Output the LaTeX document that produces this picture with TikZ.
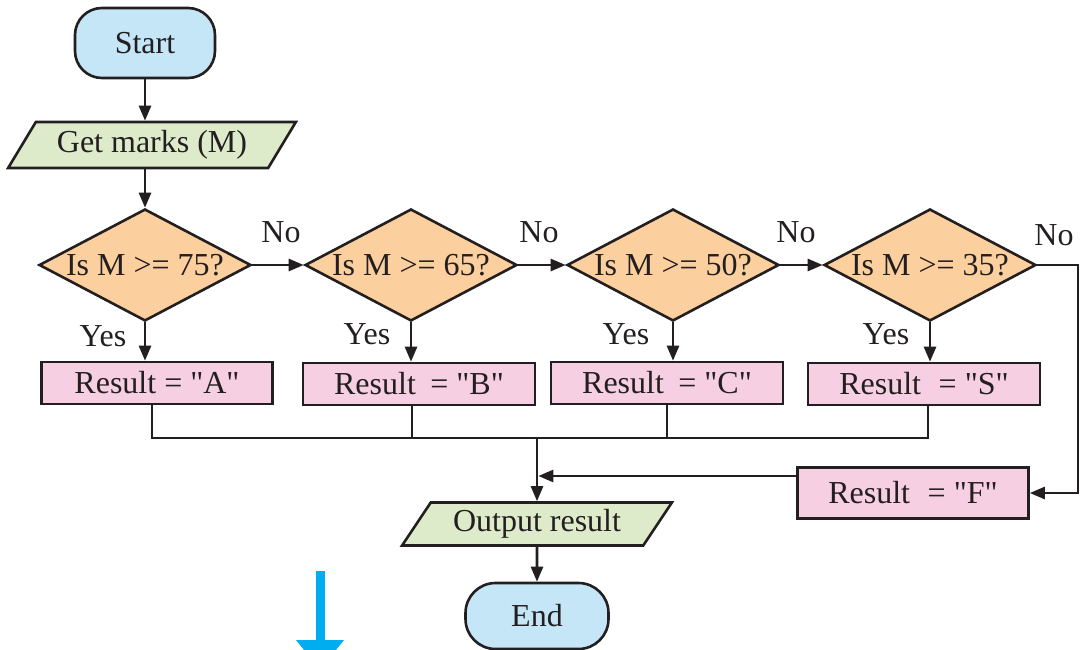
\documentclass[tikz,border=0pt]{standalone}
\usepackage{fontspec}
\setmainfont{Liberation Serif}[Ligatures=TeXOff]
\usetikzlibrary{shapes.geometric,arrows.meta}

\definecolor{termfill}{RGB}{196,230,246}
\definecolor{iofill}{RGB}{221,235,203}
\definecolor{decfill}{RGB}{251,207,158}
\definecolor{resfill}{RGB}{247,207,227}
\definecolor{hintblue}{RGB}{0,174,239}
\definecolor{ink}{RGB}{35,31,32}

\tikzset{
  base/.style={draw=ink, line width=2.6pt, text=ink, inner sep=0pt,
    font=\fontsize{32}{37}\selectfont},
  term/.style={base, fill=termfill, rectangle, rounded corners=27pt},
  io/.style={base, fill=iofill, trapezium, trapezium left angle=52,
    trapezium right angle=128, trapezium stretches=true},
  decision/.style={base, fill=decfill, diamond, aspect=1.9,
    minimum width=212pt, minimum height=112pt},
  result/.style={base, fill=resfill, rectangle,
    minimum width=232pt, minimum height=42pt},
  lbl/.style={text=ink, inner sep=0pt, font=\fontsize{32}{37}\selectfont},
  flow/.style={draw=ink, line width=2.6pt,
    -{Triangle[length=15pt,width=12pt]}},
  wire/.style={draw=ink, line width=2.6pt},
  hint/.style={draw=hintblue, line width=9pt,
    -{Triangle[length=30pt,width=46pt]}}
}

\begin{document}
\begin{tikzpicture}[x=1pt,y=-1pt]
\path[use as bounding box] (0,0) rectangle (1080,650);
\clip (0,0) rectangle (1080,650);

% terminals and input/output
\node[term, minimum width=140pt, minimum height=70pt] (start) at (145,43) {Start};
\node[io, minimum width=288pt, minimum height=46pt] (gm) at (152,145) {Get marks (M)};

% decisions
\node[decision] (d1) at (145,265) {Is M >= 75?};
\node[decision] (d2) at (411,265) {Is M >= 65?};
\node[decision] (d3) at (673,265) {Is M >= 50?};
\node[decision] (d4) at (930,265) {Is M >= 35?};

% results
\node[result, minimum width=231pt] (rA) at (157,383) {Result = "A"};
\node[result] (rB) at (419,384) {Result\hspace{0.45em}= "B"};
\node[result] (rC) at (667,383) {Result\hspace{0.45em}= "C"};
\node[result] (rS) at (924,384) {Result\hspace{0.55em}= "S"};
\node[result, minimum width=231pt, minimum height=51pt] (rF) at (913,493) {Result\hspace{0.55em}= "F"};

\node[io, minimum width=270pt, minimum height=43pt] (out) at (537,524) {Output result};
\node[term, minimum width=143pt, minimum height=66pt, rounded corners=30pt] (end) at (537,616) {End};

% branch labels
\node[lbl] (no1) at (281,232) {No};
\node[lbl] (no2) at (539,232) {No};
\node[lbl] (no3) at (796,232) {No};
\node[lbl] (no4) at (1054,235) {No};
\node[lbl] (yes1) at (103,336) {Yes};
\node[lbl] (yes2) at (367,334) {Yes};
\node[lbl] (yes3) at (626,334) {Yes};
\node[lbl] (yes4) at (886,334) {Yes};

% helper coordinates
\coordinate (busy) at (0,438);
\coordinate (fy) at (0,476);
\coordinate (rt) at (1078,0);
\coordinate (tapA) at (152,0);
\coordinate (tapB) at (412,0);
\coordinate (tapS) at (928,0);

% main flow
\draw[flow] (start.south) -- (start.south |- gm.north);
\draw[flow] (d1.north |- gm.south) -- (d1.north);
\draw[flow] (d1.east) -- (d2.west);
\draw[flow] (d2.east) -- (d3.west);
\draw[flow] (d3.east) -- (d4.west);
\draw[flow] (d1.south) -- (d1.south |- rA.north);
\draw[flow] (d2.south) -- (d2.south |- rB.north);
\draw[flow] (d3.south) -- (d3.south |- rC.north);
\draw[flow] (d4.south) -- (d4.south |- rS.north);
\draw[flow] (d4.east) -- (rt |- d4.east) -- (rt |- rF.east) -- (rF.east);

% collecting bus
\draw[wire] (tapA |- rA.south) -- (tapA |- busy) -- (tapS |- busy) -- (tapS |- rS.south);
\draw[wire] (tapB |- rB.south) -- (tapB |- busy);
\draw[wire] (rC.south) -- (rC.south |- busy);
\draw[flow] (out.north |- busy) -- (out.north);
\draw[flow, shorten >=1.3pt] (rF.west |- fy) -- (out.north |- fy);
\draw[flow] (out.south) -- (end.north);

% blue pointer
\coordinate (bluetop) at (320,571);
\coordinate (bluetip) at (320,670);
\draw[hint] (bluetop) -- (bluetip);
\end{tikzpicture}
\end{document}
